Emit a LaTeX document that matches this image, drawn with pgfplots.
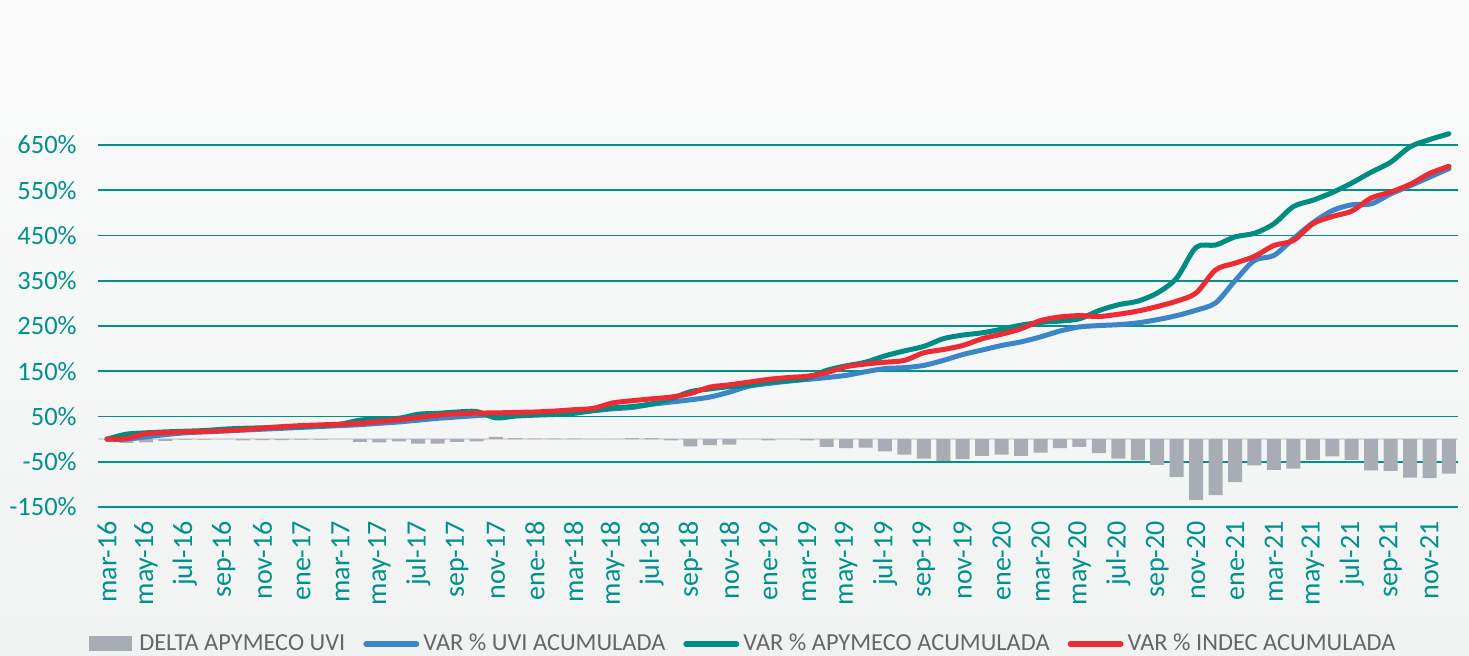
\documentclass[border=0pt]{standalone}
\usepackage{pgfplots}
\usepackage{pgfplotstable}
\pgfplotsset{compat=1.18}
\usepackage{fontspec}
\setmainfont{Carlito}
\definecolor{tealG}{RGB}{0,145,138}
\definecolor{tealL}{RGB}{0,140,130}
\definecolor{blueL}{RGB}{59,134,200}
\definecolor{redL}{RGB}{237,43,51}
\definecolor{barG}{RGB}{168,173,181}
\definecolor{zeroG}{RGB}{214,217,222}
\definecolor{legG}{RGB}{100,102,105}
\definecolor{bgTop}{RGB}{250,250,250}
\definecolor{bgBot}{RGB}{241,243,243}
\pgfplotstableread{
i bar uvi apy indec
0 0 0 0 0
1 -8 0 11 1.5
2 -7 5 14 12
3 -4 10 16 14.5
4 -1 14 17.5 16
5 -1 16 19 17
6 0 18 22 18.5
7 -3 20 24 21
8 -2 22 25 24.5
9 -2 24 26.5 27.5
10 -1 26 28 30
11 -1 28 30 31.5
12 0 30 33 33
13 -6 32 42 35
14 -7 35 45 39
15 -5 38 46 43
16 -10 42 55 48
17 -10 46 57 53
18 -6 49 60 56
19 -5 52 61 57.5
20 5 54 47 58
21 2 55 51 59
22 1 56 53 60
23 1 57 54.5 62
24 1 60 57 65
25 0 63 63 68
26 0 67 69 80
27 2 70 72 85
28 2 77 78 89
29 -3 82 89 93
30 -16 87 105 101
31 -13 93 111 115
32 -12 104 116 120
33 0 117 119 126
34 -3 123 126 132
35 0 128 129 136
36 -3 132 135 139
37 -17 136 152 147
38 -20 141 162 160
39 -19 149 170 166
40 -27 156 184 170
41 -34 158 195 174
42 -43 163 205 191
43 -48 174 222 198
44 -44 187 230 207
45 -37 197 235 222
46 -34 207 243 232
47 -37 215 252 244
48 -30 226 258 262
49 -20 239 261 270
50 -17 248 266 273
51 -31 251 284 271
52 -43 253 297 276
53 -47 257 305 283
54 -57 264 323 293
55 -84 273 356 305
56 -134 285 424 323
57 -124 301 429 374
58 -95 350 447 389
59 -58 395 455 404
60 -68 406 476 428
61 -65 443 514 439
62 -46 478 528 476
63 -38 505 545 492
64 -46 518 566 504
65 -69 520 590 533
66 -70 542 612 546
67 -85 560 646 563
68 -86 579 662 587
69 -76 598 675 603
}\datatable
\begin{document}
\begin{tikzpicture}
\useasboundingbox (-48.85pt,-74pt) rectangle (685.65pt,253.5pt);
\shade[top color=bgTop, bottom color=bgBot] (-48.85pt,-74pt) rectangle (685.65pt,253.5pt);
\begin{axis}[
  scale only axis,
  width=680pt, height=192.3pt,
  xmin=-0.48, xmax=69.45,
  ymin=-150, ymax=700,
  axis line style={draw=none},
  major tick length=0pt,
  tick style={draw=none},
  ytick={-150,-50,50,150,250,350,450,550,650},
  yticklabels={-150\%,-50\%,50\%,150\%,250\%,350\%,450\%,550\%,650\%},
  xtick={0,2,...,68},
  xticklabels={mar-16,may-16,jul-16,sep-16,nov-16,ene-17,mar-17,may-17,jul-17,sep-17,nov-17,ene-18,mar-18,may-18,jul-18,sep-18,nov-18,ene-19,mar-19,may-19,jul-19,sep-19,nov-19,ene-20,mar-20,may-20,jul-20,sep-20,nov-20,ene-21,mar-21,may-21,jul-21,sep-21,nov-21},
  ymajorgrids=true,
  major grid style={tealG, line width=0.9pt},
  extra y ticks={0},
  extra y tick labels={},
  extra y tick style={grid=major, major grid style={zeroG, line width=1pt}},
  tick label style={font=\fontsize{13.25}{16}\selectfont, text=tealG},
  yticklabel style={xshift=-7pt},
  xticklabel style={rotate=90, anchor=east, font=\fontsize{14}{16}\selectfont},
  xticklabel shift={3.5pt},
  legend style={at={(0.4755,-0.356)}, anchor=center, draw=none, fill=none,
    font=\fontsize{12.2}{14}\selectfont, text=legG,
    /tikz/every even column/.append style={column sep=7pt}},
  legend columns=4,
  clip=false,
]
\addplot[ybar, bar width=7pt, fill=barG, draw=none,
  legend image code/.code={\fill[barG] (0pt,-3.75pt) rectangle (21.5pt,3.75pt); \path (23pt,0pt);}]
  table[x=i, y=bar] {\datatable};
\addlegendentry{DELTA APYMECO UVI}
\addplot[blueL, line width=2.5pt, smooth, line join=round, line cap=round,
  legend image code/.code={\draw[blueL, line width=3pt, line cap=round] (0pt,0pt) -- (25pt,0pt);}]
  table[x=i, y=uvi] {\datatable};
\addlegendentry{VAR \% UVI ACUMULADA}
\addplot[tealL, line width=2.5pt, smooth, line join=round, line cap=round,
  legend image code/.code={\draw[tealL, line width=3pt, line cap=round] (0pt,0pt) -- (25pt,0pt);}]
  table[x=i, y=apy] {\datatable};
\addlegendentry{VAR \% APYMECO ACUMULADA}
\addplot[redL, line width=2.5pt, smooth, line join=round, line cap=round,
  legend image code/.code={\draw[redL, line width=3pt, line cap=round] (0pt,0pt) -- (25pt,0pt);}]
  table[x=i, y=indec] {\datatable};
\addlegendentry{VAR \% INDEC ACUMULADA}
\end{axis}
\end{tikzpicture}
\end{document}
